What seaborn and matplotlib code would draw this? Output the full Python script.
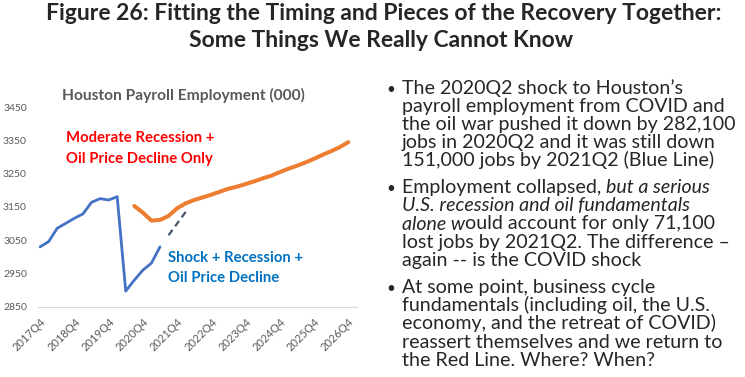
import numpy as np
import pandas as pd
import seaborn as sns
import matplotlib.pyplot as plt

# Data (Houston payroll employment, thousands)
quarter_labels = ['2017Q4', '2018Q4', '2019Q4', '2020Q4', '2021Q4',
                  '2022Q4', '2023Q4', '2024Q4', '2025Q4', '2026Q4']

# actual series: 2017Q4 .. 2021Q2
actual_start = 0
actual = [3030, 3046, 3086, 3101, 3116, 3129, 3164, 3175, 3171, 3181,
          2897, 2930, 2960, 2981, 3030]

# moderate recession + oil decline: 2020Q3 .. 2026Q4
moderate_start = 11
moderate = [3153, 3133, 3109, 3111, 3123, 3146, 3161, 3171, 3179, 3187,
            3196, 3205, 3211, 3219, 3227, 3236, 3244, 3255, 3265, 3274,
            3284, 3295, 3307, 3318, 3330, 3345]

# dashed recovery path: 2021Q3 .. 2022Q1
dashed_start = 15
dashed = [3065, 3100, 3135]

y_ticks = [2850, 2950, 3050, 3150, 3250, 3350, 3450]

df_actual = pd.DataFrame({'q': np.arange(len(actual)) + actual_start, 'emp': actual})
df_mod = pd.DataFrame({'q': np.arange(len(moderate)) + moderate_start, 'emp': moderate})
df_dash = pd.DataFrame({'q': np.arange(len(dashed)) + dashed_start, 'emp': dashed})

sns.set_style('white')
plt.rcParams['font.family'] = ['Lato', 'DejaVu Sans']

W, H = 745, 377
fig = plt.figure(figsize=(W / 100, H / 100), dpi=100)
ax = fig.add_axes([0.051, 0.1865, 0.428, 0.529])

sns.lineplot(data=df_actual, x='q', y='emp', ax=ax, color='#4472C4', linewidth=2.0)
sns.lineplot(data=df_mod, x='q', y='emp', ax=ax, color='#ED7D31', linewidth=2.9)
sns.lineplot(data=df_dash, x='q', y='emp', ax=ax, color='#44546A', linewidth=1.6,
             linestyle=(0, (3, 2)))

ax.set_ylim(2850, 3450)
ax.set_xlim(-0.25, 37)
ax.set_yticks(y_ticks)
ax.set_yticklabels([str(v) for v in y_ticks], fontsize=7.5, color='#595959')
ax.set_xticks(np.arange(len(quarter_labels)) * 4)
ax.set_xticklabels(quarter_labels, rotation=45, ha='right', rotation_mode='anchor',
                   fontsize=8, color='#595959')
ax.tick_params(axis='y', length=0, pad=8)
ax.tick_params(axis='x', length=4, width=0.8, color='#D9D9D9', pad=3)
ax.set_xlabel('')
ax.set_ylabel('')
for s in ['top', 'right', 'left']:
    ax.spines[s].set_visible(False)
ax.spines['bottom'].set_color('#D9D9D9')
ax.spines['bottom'].set_linewidth(0.9)


def put(x, y, s, **kw):
    # place text using pixel coords measured from the top-left corner
    return fig.text(x / W, 1 - y / H, s, **kw)


# chart labels
put(62, 95, 'Houston Payroll Employment (000)', fontsize=11.2,
    fontweight='bold', color='#595959', va='center')
put(66, 138, 'Moderate Recession +', fontsize=10.7, fontweight='bold', color='#FF0000', va='center')
put(66, 159, 'Oil Price Decline Only', fontsize=10.7, fontweight='bold', color='#FF0000', va='center')
put(168, 258, 'Shock + Recession +', fontsize=10.7, fontweight='bold', color='#0070C0', va='center')
put(168, 278, 'Oil Price Decline', fontsize=10.7, fontweight='bold', color='#0070C0', va='center')

# title
put(384, 19.5, 'Figure 26: Fitting the Timing and Pieces of the Recovery Together:',
    fontsize=16.5, fontweight='bold', ha='center', va='baseline')
put(381, 46.7, 'Some Things We Really Cannot Know',
    fontsize=16.5, fontweight='bold', ha='center', va='baseline')

# bullet text, drawn line by line so italic runs can sit inside a line
bullets = [
    [[('The 2020Q2 shock to Houston\u2019s', 'normal')],
     [('payroll employment from COVID and', 'normal')],
     [('the oil war pushed it down by 282,100', 'normal')],
     [('jobs in 2020Q2 and it was still down', 'normal')],
     [('151,000 jobs by 2021Q2 (Blue Line)', 'normal')]],
    [[('Employment collapsed, ', 'normal'), ('but a serious', 'italic')],
     [('U.S. recession and oil fundamentals', 'italic')],
     [('alone w', 'italic'), ('ould account for only 71,100', 'normal')],
     [('lost jobs by 2021Q2. The difference \u2013', 'normal')],
     [('again -- is the COVID shock', 'normal')]],
    [[('At some point, business cycle', 'normal')],
     [('fundamentals (including oil, the U.S.', 'normal')],
     [('economy, and the retreat of COVID)', 'normal')],
     [('reassert themselves and we return to', 'normal')],
     [('the Red Line. Where? When?', 'normal')]],
]
bullet_y = [94, 193.3, 293.3]
line_step = 18.1
text_x = 402
body_size = 14.1

renderer = fig.canvas.get_renderer()
for b, lines in enumerate(bullets):
    y0 = bullet_y[b]
    put(386, y0, '\u2022', fontsize=11, va='baseline')
    for i, runs in enumerate(lines):
        x = text_x
        for txt, style in runs:
            t = put(x, y0 + i * line_step, txt, fontsize=body_size, style=style, va='baseline')
            x += t.get_window_extent(renderer).width * W / fig.bbox.width

fig.savefig('out.png', dpi=100)
